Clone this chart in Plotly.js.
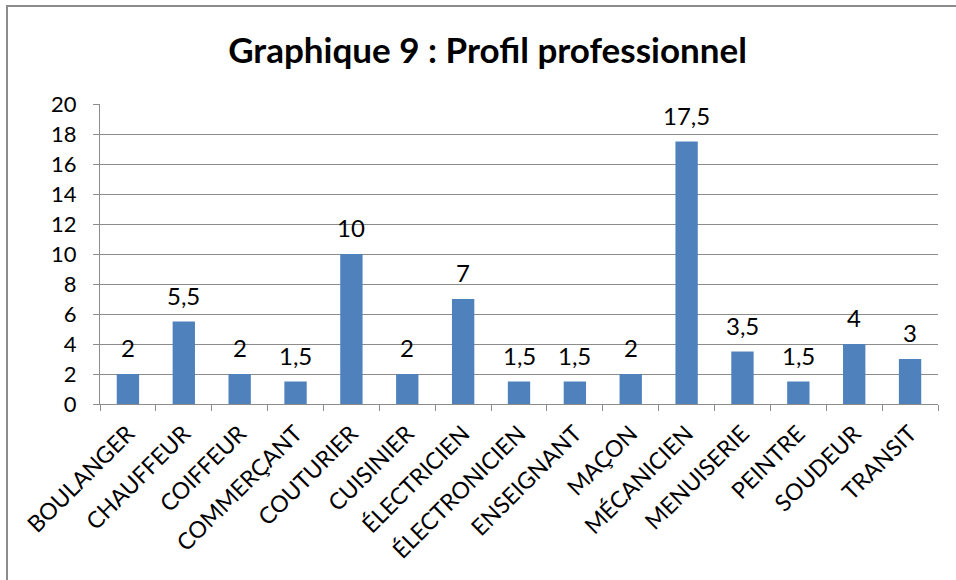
<!DOCTYPE html>
<html><head><meta charset="utf-8">
<script src="https://cdn.plot.ly/plotly-3.0.1.min.js"></script>
<style>
html,body{margin:0;padding:0;background:#fff;}
#wrap{position:relative;width:956px;height:580px;overflow:hidden;}
#frame{position:absolute;left:6px;top:5px;width:960px;height:600px;border-left:2px solid #8c8c8c;border-top:2px solid #8c8c8c;pointer-events:none;z-index:5;}
#chart{position:absolute;left:0;top:0;width:956px;height:580px;}
</style></head>
<body>
<div id="wrap"><div id="chart"></div><div id="frame"></div></div>
<script>
const categories = ["BOULANGER","CHAUFFEUR","COIFFEUR","COMMERÇANT","COUTURIER","CUISINIER","ÉLECTRICIEN","ÉLECTRONICIEN","ENSEIGNANT","MAÇON","MÉCANICIEN","MENUISERIE","PEINTRE","SOUDEUR","TRANSIT"];
const values = [2,5.5,2,1.5,10,2,7,1.5,1.5,2,17.5,3.5,1.5,4,3];
const yTicks = [0,2,4,6,8,10,12,14,16,18,20];

const fmt = v => String(v).replace('.', ',');
const font = "Lato, 'Open Sans', 'Liberation Sans', sans-serif";

const trace = {
  type:'bar', x:categories, y:values,
  marker:{color:'#4f81bd', line:{color:'#4f81bd', width:0}},
  hoverinfo:'none'
};

const annotations = categories.map((c,i)=>({
  x:c, y:values[i], xref:'x', yref:'y', text:fmt(values[i]),
  showarrow:false, yanchor:'bottom', yshift:10,
  font:{family:font, size:24, color:'#000'}
}));

const layout = {
  width:956, height:580,
  margin:{l:100, r:18, t:104, b:176},
  paper_bgcolor:'#fff', plot_bgcolor:'#fff',
  title:{text:'<b>Graphique 9 : Profil professionnel</b>', x:0.51, xanchor:'center', y:0.912, yanchor:'middle',
         font:{family:font, size:35, color:'#000'}},
  showlegend:false,
  bargap:0.6,
  annotations,
  xaxis:{
    type:'category', tickangle:-45, tickson:'boundaries', ticks:'outside', ticklen:6, tickcolor:'#8c8c8c',
    ticklabelstandoff:6,
    showline:true, linecolor:'#8c8c8c', linewidth:1, showgrid:false,
    tickfont:{family:font, size:23, color:'#000'}, fixedrange:true
  },
  yaxis:{
    range:[0,20], tickvals:yTicks, ticktext:yTicks.map(String),
    ticks:'outside', ticklen:6, tickcolor:'#8c8c8c', ticklabelstandoff:12,
    showline:true, linecolor:'#8c8c8c', linewidth:1,
    showgrid:true, gridcolor:'#8c8c8c', gridwidth:1, zeroline:false,
    tickfont:{family:font, size:22, color:'#000'}, fixedrange:true
  }
};

Plotly.newPlot('chart',[trace],layout,{displayModeBar:false, staticPlot:true});
</script>
</body></html>
